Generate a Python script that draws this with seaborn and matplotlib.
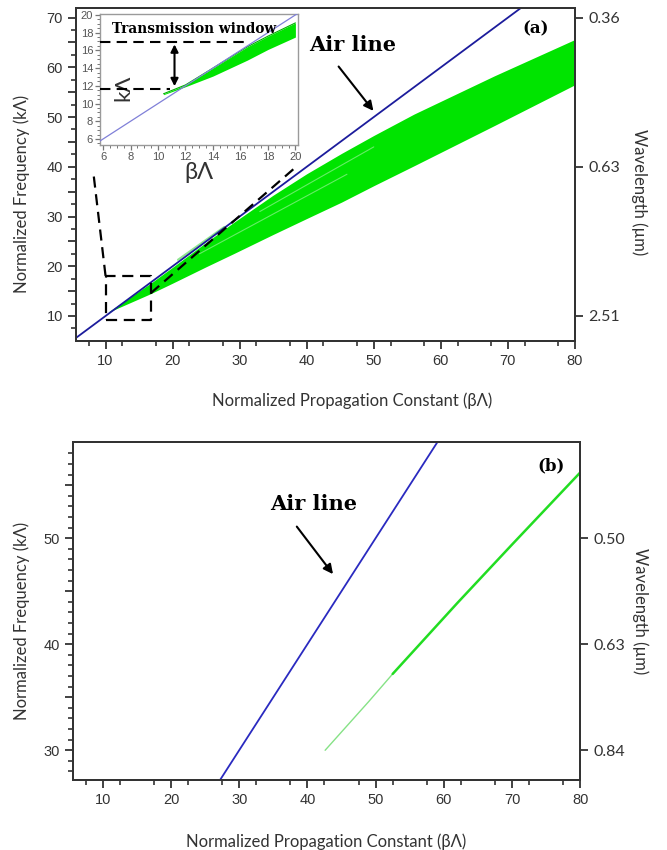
import numpy as np
import pandas as pd
import seaborn as sns
import matplotlib.pyplot as plt
from matplotlib.ticker import MultipleLocator

# ---- panel (a): band of guided modes (edges)
band_x = [10.5, 16.75, 20, 25, 29.2, 35, 40, 45.2, 50, 56, 68, 80]
band_low = [10.8, 14.5, 16.6, 19.9, 22.6, 26.4, 29.6, 32.9, 36.2, 40.2, 48.3, 56.5]
band_up = [10.9, 16.6, 19.8, 24.8, 28.9, 34.3, 38.6, 42.7, 46.3, 50.6, 58.3, 65.6]
# faint individual mode traces
ghost_x = [20.8, 27.7]
ghost_y = [21.3, 27.9]
streak1_x = [24, 46]
streak1_y = [22.5, 38.5]
streak2_x = [33, 50]
streak2_y = [31.0, 44.0]
air_x = [0, 90]
air_y = [0, 90]

# right axis, wavelength labels
wl_pos_a = [70, 40, 10]
wl_lab_a = ["0.36", "0.63", "2.51"]

# inset (zoom on 6-20)
ins_x = [10.4, 12, 14, 16.5, 18, 20]
ins_low = [11.0, 11.9, 13.1, 14.9, 16.1, 17.5]
ins_up = [11.1, 12.1, 14.0, 16.4, 17.6, 19.1]
win_top = 16.99
win_bot = 11.64

# dashed zoom box + connectors (main axes coords)
box_x = [10, 16.75, 16.75, 10, 10]
box_y = [9.2, 9.2, 18.07, 18.07, 9.2]
conn1_x = [10, 8.15]
conn1_y = [18.07, 39.2]
conn2_x = [16.75, 38.0]
conn2_y = [14.6, 39.5]

# ---- panel (b): single mode
core_x = [42.6, 49, 52.5, 62, 70, 80]
core_y = [30.0, 34.6, 37.2, 43.9, 49.4, 56.2]
wl_pos_b = [50, 40, 30]
wl_lab_b = ["0.50", "0.63", "0.84"]

sns.set_theme(style="ticks")
plt.rcParams['font.family'] = ['Liberation Sans', 'DejaVu Sans']
lab_font = ['Lato', 'DejaVu Sans']
note_font = ['DejaVu Serif']
ink = '#333333'
green = '#00e400'

fig = plt.figure(figsize=(6.67, 8.5), dpi=100)
ax = fig.add_axes([0.114, 0.599, 0.748, 0.392])
axb = fig.add_axes([0.109, 0.0824, 0.761, 0.398])


def style_axes(a):
    a.tick_params(which='major', direction='out', length=6, width=1.3,
                  color=ink, labelcolor=ink, labelsize=10.5)
    a.tick_params(which='minor', direction='out', length=3.5, width=1.2, color=ink)
    for s in a.spines.values():
        s.set_color(ink)
        s.set_linewidth(1.4)


# ===== panel (a)
ax.fill_between(band_x, band_low, band_up, color=green, lw=0, zorder=2)
sns.lineplot(x=ghost_x, y=ghost_y, ax=ax, color='#8fe68f', lw=1.5, zorder=2)
sns.lineplot(x=streak1_x, y=streak1_y, ax=ax, color='#66ee66', lw=0.8, zorder=2)
sns.lineplot(x=streak2_x, y=streak2_y, ax=ax, color='#66ee66', lw=0.8, zorder=2)
sns.lineplot(x=air_x, y=air_y, ax=ax, color='#1c1c9c', lw=1.3, zorder=3)
ax.plot(box_x, box_y, color='black', lw=1.6, ls=(0, (5, 3)), zorder=4)
ax.plot(conn1_x, conn1_y, color='black', lw=1.6, ls=(0, (5, 3)), zorder=4)
ax.plot(conn2_x, conn2_y, color='black', lw=1.6, ls=(0, (5, 3)), zorder=4)

ax.set_xlim(5.6, 80)
ax.set_ylim(5, 72)
ax.set_xticks([10, 20, 30, 40, 50, 60, 70, 80])
ax.set_xticklabels(["10", "20", "30", "40", "50", "60", "70", "80"])
ax.set_yticks([10, 15, 20, 25, 30, 35, 40, 45, 50, 55, 60, 65, 70])
ax.set_yticklabels(["10", "", "20", "", "30", "", "40", "", "50", "", "60", "", "70"])
ax.set_xticks([7.5 + 5 * i for i in range(15)], minor=True)
ax.set_yticks([7.5 + 5 * i for i in range(13)], minor=True)
style_axes(ax)
ax.set_xlabel("Normalized Propagation Constant (βΛ)", family=lab_font,
              fontsize=12, color=ink)
ax.xaxis.set_label_coords(0.553, -0.155)
ax.set_ylabel("Normalized Frequency (kΛ)", family=lab_font, fontsize=12, color=ink)
ax.yaxis.set_label_coords(-0.093, 0.44)

ax.text(46.8, 64.4, "Air line", family=note_font, fontweight='bold',
        fontsize=15, ha='center', va='center', color='black')
ax.annotate("", xy=(50.2, 50.8), xytext=(44.5, 60.6),
            arrowprops=dict(arrowstyle='-|>', color='black', lw=1.5,
                            mutation_scale=14))
ax.text(74.2, 67.8, "(a)", family=note_font, fontweight='bold', fontsize=12,
        ha='center', va='center', color='black')

ax2 = ax.twinx()
ax2.set_ylim(5, 72)
ax2.set_yticks(wl_pos_a)
ax2.set_yticklabels(wl_lab_a, family=lab_font, fontsize=11.5)
ax2.tick_params(direction='out', length=6, width=1.3, color=ink, labelcolor=ink)
ax2.set_ylabel("Wavelength (µm)", family=lab_font, fontsize=12, color=ink,
               rotation=270)
ax2.yaxis.set_label_coords(1.146, 0.447)
for s in ax2.spines.values():
    s.set_color(ink)
    s.set_linewidth(1.4)

# ----- inset
axi = fig.add_axes([0.150, 0.8294, 0.297, 0.1541])
axi.fill_between(ins_x, ins_low, ins_up, color=green, lw=0, zorder=2)
sns.lineplot(x=ins_x, y=ins_up, ax=axi, color='#00b000', lw=0.8, zorder=2)
sns.lineplot(x=air_x, y=air_y, ax=axi, color='#8080d8', lw=0.9, zorder=3)
axi.plot([5.78, 16.7], [win_top, win_top], color='black', lw=1.5,
         ls=(0, (5, 3)), zorder=4)
axi.plot([5.78, 10.9], [win_bot, win_bot], color='black', lw=1.5,
         ls=(0, (5, 3)), zorder=4)
axi.annotate("", xy=(11.2, win_bot), xytext=(11.2, win_top),
             arrowprops=dict(arrowstyle='<|-|>', color='black', lw=1.5,
                             mutation_scale=11))
axi.set_xlim(5.78, 20.2)
axi.set_ylim(5.32, 20.1)
axi.set_xticks([6, 8, 10, 12, 14, 16, 18, 20])
axi.set_yticks([6, 8, 10, 12, 14, 16, 18, 20])
axi.xaxis.set_minor_locator(MultipleLocator(0.5))
axi.yaxis.set_minor_locator(MultipleLocator(0.5))
axi.tick_params(which='major', direction='out', length=3.5, width=0.9,
                color='#777777', labelcolor='#555555', labelsize=8, pad=1.5)
axi.tick_params(which='minor', direction='out', length=2, width=0.7,
                color='#777777')
for s in axi.spines.values():
    s.set_color('#9a9a9a')
    s.set_linewidth(1.0)
axi.set_xlabel("βΛ", family=lab_font, fontsize=17, color=ink, labelpad=0)
axi.text(7.45, 11.8, "kΛ", family=lab_font, fontsize=16, rotation=90,
         ha='center', va='center', color=ink)
axi.text(12.6, 18.4, "Transmission window", family=note_font,
         fontweight='bold', fontsize=9.8, ha='center', va='center',
         color='black')

# ===== panel (b)
sns.lineplot(x=core_x[:3], y=core_y[:3], ax=axb, color='#86e286', lw=1.0)
sns.lineplot(x=core_x[2:], y=core_y[2:], ax=axb, color='#22dd22', lw=1.8)
sns.lineplot(x=air_x, y=air_y, ax=axb, color='#2a2ac0', lw=1.3)
axb.set_xlim(5.6, 80)
axb.set_ylim(27.2, 59.1)
axb.set_xticks([10, 20, 30, 40, 50, 60, 70, 80])
axb.set_xticklabels(["10", "20", "30", "40", "50", "60", "70", "80"])
axb.set_yticks([30, 35, 40, 45, 50, 55])
axb.set_yticklabels(["30", "", "40", "", "50", ""])
style_axes(axb)
axb.set_xticks([7.5 + 5 * i for i in range(15)], minor=True)
axb.set_yticks([v for v in range(28, 59) if v % 5 != 0], minor=True)
axb.set_xlabel("Normalized Propagation Constant (βΛ)", family=lab_font,
               fontsize=12, color=ink, labelpad=19)
axb.set_ylabel("Normalized Frequency (kΛ)", family=lab_font, fontsize=12, color=ink)
axb.yaxis.set_label_coords(-0.084, 0.47)
axb.text(40.9, 53.2, "Air line", family=note_font, fontweight='bold',
         fontsize=15, ha='center', va='center', color='black')
axb.annotate("", xy=(44.0, 46.4), xytext=(38.2, 51.3),
             arrowprops=dict(arrowstyle='-|>', color='black', lw=1.5,
                             mutation_scale=14))
axb.text(75.7, 56.8, "(b)", family=note_font, fontweight='bold', fontsize=12,
         ha='center', va='center', color='black')

axb2 = axb.twinx()
axb2.set_ylim(27.2, 59.1)
axb2.set_yticks(wl_pos_b)
axb2.set_yticklabels(wl_lab_b, family=lab_font, fontsize=11.5)
axb2.tick_params(direction='out', length=6, width=1.3, color=ink, labelcolor=ink)
axb2.set_ylabel("Wavelength (µm)", family=lab_font, fontsize=12, color=ink,
                rotation=270)
axb2.yaxis.set_label_coords(1.134, 0.5)
for s in axb2.spines.values():
    s.set_color(ink)
    s.set_linewidth(1.4)

plt.savefig('out.png', dpi=100)
